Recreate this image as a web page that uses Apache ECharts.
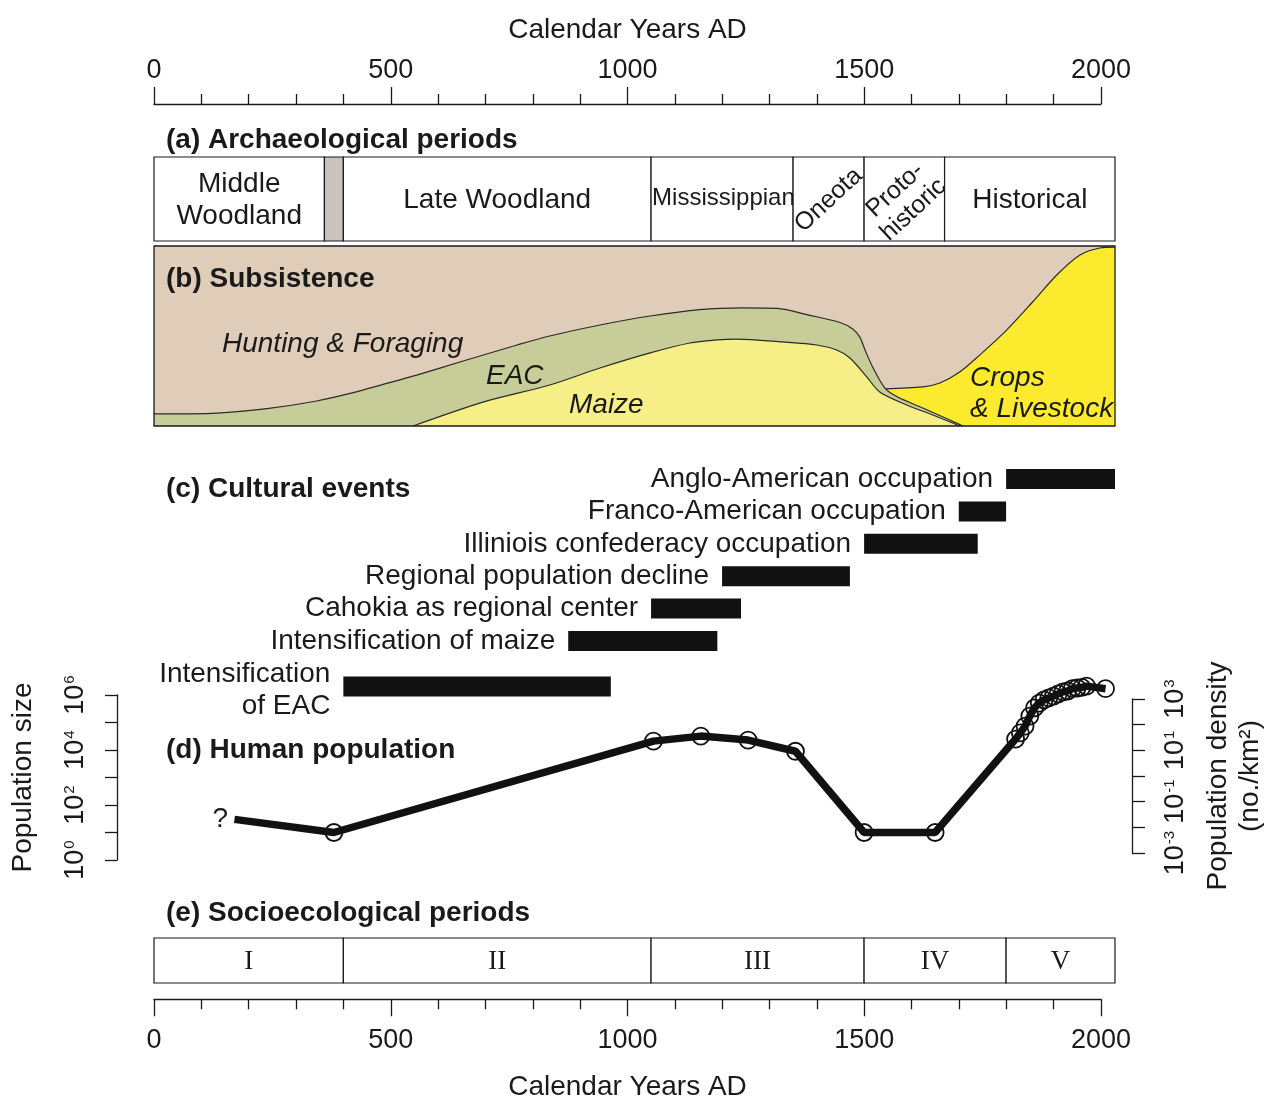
<!DOCTYPE html>
<html><head><meta charset="utf-8">
<script src="https://cdn.jsdelivr.net/npm/echarts@6/dist/echarts.min.js"></script>
<style>html,body{margin:0;padding:0;background:#fff}#c{width:1274px;height:1098px}</style>
</head><body><div id="c"></div>
<script>
// ---------- DATA ----------
const archPeriods = ['Middle\nWoodland', '', 'Late Woodland', 'Mississippian', 'Oneota', 'Proto-\nhistoric', 'Historical'];
const archStart = [0, 360, 400, 1050, 1350, 1500, 1670];
const archEnd = [360, 400, 1050, 1350, 1500, 1670, 2030];

// subsistence boundaries (share of panel, %)
const eacTopYears = [0, 133, 239, 344, 414, 484, 555, 653, 767, 836, 942, 1048, 1153, 1244, 1316, 1385, 1449, 1476, 1491, 1502, 1518, 1544, 1571, 1624, 1681, 1709];
const eacTopVals = [6.7, 7.2, 9.7, 13.9, 18.1, 23.1, 28.3, 36.1, 45, 50, 56.1, 61.1, 64.7, 65.6, 65.3, 61.5, 57.5, 53.9, 49.4, 42.2, 32.8, 21.1, 16.1, 10, 3.3, 0];
const maizeTopYears = [547, 695, 836, 942, 1048, 1132, 1189, 1231, 1328, 1400, 1442, 1470, 1506, 1533, 1590, 1645, 1687, 1702];
const maizeTopVals = [0, 13.3, 22.8, 32.2, 40.6, 46.1, 47.8, 48.3, 46.7, 45, 42.2, 37.8, 27.2, 18.9, 11.7, 6.1, 1.7, 0];
const cropsYears = [1544, 1624, 1660, 1702, 1744, 1801, 1856, 1907, 1956, 1998, 2030];
const cropsVals = [20.6, 21.7, 23.9, 30, 39.4, 53.3, 68.9, 83.9, 95, 98.9, 99.4];

const eventNames = ['Anglo-American occupation', 'Franco-American occupation', 'Illiniois confederacy occupation', 'Regional population decline', 'Cahokia as regional center', 'Intensification of maize', 'Intensification\nof EAC'];
const eventStart = [1800, 1700, 1500, 1200, 1050, 875, 400];
const eventEnd = [2030, 1800, 1740, 1470, 1240, 1190, 965];

const popYears = [170, 380, 1055, 1155, 1255, 1355, 1500, 1650, 1820, 1830, 1840, 1850, 1860, 1870, 1880, 1890, 1900, 1910, 1920, 1930, 1940, 1950, 1960, 1970, 2010];
const popValues = [30, 10, 21000, 32000, 23000, 9000, 10, 10, 25000, 42000, 74000, 170000, 340000, 510000, 660000, 780000, 910000, 1100000, 1300000, 1400000, 1700000, 1800000, 1900000, 2100000, 1700000];

const socioPeriods = ['I', 'II', 'III', 'IV', 'V'];
const socioStart = [0, 400, 1050, 1500, 1800];
const socioEnd = [400, 1050, 1500, 1800, 2030];

const yearTicks = [0, 500, 1000, 1500, 2000];

// ---------- STYLE ----------
const FONT = '"Liberation Sans", Arial, Helvetica, sans-serif';
const SERIF = '"Liberation Serif", "Times New Roman", serif';
const INK = '#1a1a1a';
const FS = 28;
const X_MAX = 2030;
const PANEL_L = 154, PANEL_W = 961, AXIS_W = 947;

const chart = echarts.init(document.getElementById('c'));

const yearAxis = (gridIndex, pos) => ({
  gridIndex, type: 'value', position: pos, min: 0, max: 2000, interval: 500,
  axisLine: { show: true, onZero: false, lineStyle: { color: INK, width: 1.3 } },
  axisTick: { show: true, length: 17, lineStyle: { color: INK, width: 1.3 } },
  minorTick: { show: true, splitNumber: 5, length: 10, lineStyle: { color: INK, width: 1.3 } },
  splitLine: { show: false },
  axisLabel: { fontSize: 27, fontFamily: FONT, color: INK, margin: pos === 'top' ? 20 : 28,
    formatter: v => yearTicks.includes(v) ? String(v) : '' },
  name: 'Calendar Years AD', nameLocation: 'middle', nameGap: pos === 'top' ? 60 : 74,
  nameTextStyle: { fontSize: FS, fontFamily: FONT, color: INK }
});
const hiddenX = (g, max) => ({ gridIndex: g, type: 'value', min: 0, max: max || X_MAX, show: false });
const hiddenY = (g, min, max, inv) => ({ gridIndex: g, type: 'value', min, max, inverse: !!inv, show: false });

const powRich = {
  b: { fontSize: 27, fontFamily: FONT, color: INK },
  s: { fontSize: 15, fontFamily: FONT, color: INK, verticalAlign: 'top', padding: [0, 0, 0, 1] }
};

function renderArch(params, api) {
  const i = params.dataIndex;
  const a = api.coord([api.value(0), 100]);
  const b = api.coord([api.value(1), 0]);
  const children = [{ type: 'rect', shape: { x: a[0], y: a[1], width: b[0] - a[0], height: b[1] - a[1] },
    style: { fill: i === 1 ? '#c9c3bf' : '#fff', stroke: INK, lineWidth: 1.2 } }];
  const label = archPeriods[i];
  const cx = (a[0] + b[0]) / 2, cy = (a[1] + b[1]) / 2;
  if (label) {
    let t = { type: 'text', x: cx, y: cy + 1, style: { text: label, fontSize: FS, fontFamily: FONT, fill: INK, align: 'center', verticalAlign: 'middle', lineHeight: 32 } };
    if (label === 'Mississippian') { t.x = a[0] + 1; t.y = cy - 1; t.style.align = 'left'; t.style.fontSize = 24; }
    if (label === 'Oneota') { t.rotation = Math.PI / 4 * 0.95; t.style.fontSize = 25; }
    if (label.indexOf('Proto') === 0) { t.rotation = Math.PI / 4 * 0.95; t.style.fontSize = 25; t.style.lineHeight = 27; }
    children.push(t);
  }
  return { type: 'group', children };
}

const rowPos = [0, 1, 2, 3, 4, 5, 6.4];
function renderEvent(params, api) {
  const i = params.dataIndex;
  const row = rowPos[i];
  const a = api.coord([api.value(0), row]);
  const b = api.coord([api.value(1), row]);
  const h = 20;
  return { type: 'group', children: [
    { type: 'rect', shape: { x: a[0], y: a[1] - h / 2, width: b[0] - a[0], height: h }, style: { fill: '#111' } },
    { type: 'text', x: a[0] - 13, y: a[1] + (i === 6 ? 4 : 0), style: { text: eventNames[i], fontSize: FS, fontFamily: FONT, fill: INK, align: 'right', verticalAlign: 'middle', lineHeight: 32 } }
  ] };
}

function renderSocio(params, api) {
  const i = params.dataIndex;
  const a = api.coord([api.value(0), 1]);
  const b = api.coord([api.value(1), 0]);
  return { type: 'group', children: [
    { type: 'rect', shape: { x: a[0], y: a[1], width: b[0] - a[0], height: b[1] - a[1] }, style: { fill: '#fff', stroke: INK, lineWidth: 1.2 } },
    { type: 'text', x: (a[0] + b[0]) / 2, y: (a[1] + b[1]) / 2 + 1, style: { text: socioPeriods[i], fontSize: 27, fontFamily: SERIF, fill: INK, align: 'center', verticalAlign: 'middle' } }
  ] };
}

function renderFrame(params, api) {
  const a = api.coord([0, 100]);
  const b = api.coord([X_MAX, 0]);
  return { type: 'rect', shape: { x: a[0], y: a[1], width: b[0] - a[0], height: b[1] - a[1] }, style: { fill: 'none', stroke: INK, lineWidth: 1.3 } };
}

const pairs = (xs, ys) => xs.map((x, i) => [x, ys[i]]);
const areaLine = (xs, ys, color, z) => ({
  type: 'line', xAxisIndex: 2, yAxisIndex: 2, data: pairs(xs, ys), smooth: 0.3,
  symbol: 'none', lineStyle: { color: '#2a2a2a', width: 1.2 }, areaStyle: { color, opacity: 1 }, z, silent: true
});

const popData = popYears.map((y, i) => i === 0
  ? { value: [y, popValues[i]], symbolSize: 1, itemStyle: { borderWidth: 0 },
      label: { show: true, position: 'left', distance: 6, formatter: '?', fontSize: FS, fontFamily: FONT, color: INK } }
  : [y, popValues[i]]);

const txt = (text, x, y, extra) => ({ type: 'text', x, y, z: 100, style: Object.assign({ text, fontSize: FS, fontFamily: FONT, fill: INK, verticalAlign: 'middle' }, extra || {}) });
const bold = { fontWeight: 'bold', fontSize: 28 };
const ital = { fontStyle: 'italic' };

chart.setOption({
  animation: false,
  backgroundColor: '#fff',
  grid: [
    { left: PANEL_L, width: AXIS_W, top: 104, height: 1 },
    { left: PANEL_L, width: PANEL_W, top: 157, height: 84 },
    { left: PANEL_L, width: PANEL_W, top: 246, height: 180, show: true, backgroundColor: '#dfcdb9', borderWidth: 0 },
    { left: PANEL_L, width: PANEL_W, top: 462.8, height: 239.8 },
    { left: PANEL_L, width: PANEL_W, top: 695, height: 165 },
    { left: PANEL_L, width: PANEL_W, top: 699, height: 154 },
    { left: PANEL_L, width: PANEL_W, top: 938, height: 45 },
    { left: PANEL_L, width: AXIS_W, top: 999, height: 1 }
  ],
  xAxis: [yearAxis(0, 'top'), hiddenX(1), hiddenX(2), hiddenX(3), hiddenX(4), hiddenX(5), hiddenX(6), yearAxis(7, 'bottom')],
  yAxis: [
    hiddenY(0, 0, 1), hiddenY(1, 0, 100), hiddenY(2, 0, 100), hiddenY(3, -0.5, 6.9, true),
    { gridIndex: 4, type: 'log', logBase: 10, min: 1, max: 1e6, splitNumber: 6, position: 'left', offset: 37,
      axisLine: { show: true, onZero: false, lineStyle: { color: INK, width: 1.3 } },
      axisTick: { show: true, inside: false, length: 12, lineStyle: { color: INK, width: 1.3 } },
      splitLine: { show: false }, minorTick: { show: false },
      axisLabel: { rotate: 90, margin: 28, rich: powRich,
        formatter: v => { const e = Math.round(Math.log10(v)); return e % 2 ? '' : '{b|10}{s|' + e + '}'; } },
      name: 'Population size', nameLocation: 'middle', nameRotate: 90, nameGap: 80,
      nameTextStyle: { fontSize: FS, fontFamily: FONT, color: INK } },
    { gridIndex: 5, type: 'value', min: -3, max: 3, interval: 1, position: 'right', offset: 24,
      axisLine: { show: true, onZero: false, lineStyle: { color: INK, width: 1.3 } },
      axisTick: { show: true, inside: false, length: 13, lineStyle: { color: INK, width: 1.3 } },
      splitLine: { show: false },
      axisLabel: { rotate: 90, margin: 30, rich: powRich,
        formatter: v => { const e = Math.round(v); return Math.abs(e) % 2 === 1 ? '{b|10}{s|' + e + '}' : ''; } },
      name: 'Population density\n(no./km²)', nameLocation: 'middle', nameRotate: 90, nameGap: 70,
      nameTextStyle: { fontSize: FS, fontFamily: FONT, color: INK, lineHeight: 32 } },
    hiddenY(6, 0, 1), hiddenY(7, 0, 1)
  ],
  series: [
    areaLine(cropsYears, cropsVals, '#fcea2f', 2),
    areaLine(eacTopYears, eacTopVals, '#c7cd99', 3),
    areaLine(maizeTopYears, maizeTopVals, '#f6ee87', 4),
    { type: 'custom', xAxisIndex: 2, yAxisIndex: 2, data: [[0]], renderItem: renderFrame, z: 10, silent: true },
    { type: 'custom', xAxisIndex: 1, yAxisIndex: 1, data: pairs(archStart, archEnd), renderItem: renderArch, silent: true },
    { type: 'custom', xAxisIndex: 3, yAxisIndex: 3, data: pairs(eventStart, eventEnd), renderItem: renderEvent, silent: true },
    { type: 'line', xAxisIndex: 4, yAxisIndex: 4, data: popData, clip: false,
      symbol: 'circle', symbolSize: 17,
      itemStyle: { color: 'rgba(0,0,0,0)', borderColor: '#111', borderWidth: 1.8 },
      lineStyle: { color: '#111', width: 7.5 }, z: 5, silent: true },
    { type: 'custom', xAxisIndex: 6, yAxisIndex: 6, data: pairs(socioStart, socioEnd), renderItem: renderSocio, silent: true }
  ],
  graphic: [
    txt('(a) Archaeological periods', 166, 140, bold),
    txt('(b) Subsistence', 166, 279, bold),
    txt('(c) Cultural events', 166, 489, bold),
    txt('(d) Human population', 166, 750, bold),
    txt('(e) Socioecological periods', 166, 913, bold),
    txt('Hunting & Foraging', 222, 344, ital),
    txt('EAC', 486, 376, ital),
    txt('Maize', 569, 405, ital),
    txt('Crops', 970, 378, ital),
    txt('& Livestock', 970, 409, ital)
  ]
});
</script>
</body></html>
